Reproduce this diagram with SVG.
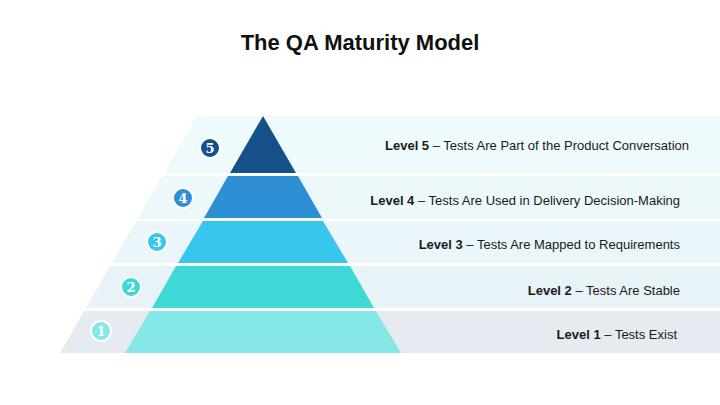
<svg xmlns="http://www.w3.org/2000/svg" width="720" height="405" viewBox="0 0 720 405">
<style>
.t{font-family:"Liberation Sans",Arial,sans-serif;font-size:13px;fill:#1a1a1a;text-anchor:end}
.b{font-weight:bold}
.n{font-family:"DejaVu Serif",serif;font-weight:bold;font-size:13px;fill:#fff;text-anchor:middle}
.c{stroke:#fff;stroke-width:2}
</style>
<rect width="720" height="405" fill="#fff"/>
<text x="360" y="50" font-family="Liberation Sans,Arial,sans-serif" font-weight="bold" font-size="22" text-anchor="middle" fill="#111">The QA Maturity Model</text>
<g id="bands">
<polygon points="197,116 720,116 720,173 164,173" fill="#eefafb"/>
<polygon points="162,176 720,176 720,219 137,219" fill="#ecf8fa"/>
<polygon points="136,221 720,221 720,263 112,263" fill="#eaf6f9"/>
<polygon points="110,266 720,266 720,308 86,308" fill="#e8f3f8"/>
<polygon points="84,311 720,311 720,353 60,353" fill="#e6ebf1"/>
</g>
<g id="level5"><polygon points="263,116 296,173 230,173" fill="#16508a"/><circle class="c" cx="210" cy="148" r="10" fill="#16508a"/><text class="n" x="210" y="153">5</text><text class="t" x="689" y="150"><tspan class="b">Level 5</tspan> – Tests Are Part of the Product Conversation</text></g>
<g id="level4"><polygon points="228,176 298,176 322,218 204,218" fill="#2e8fd5"/><circle class="c" cx="183" cy="198" r="10" fill="#2e8fd5"/><text class="n" x="183" y="203">4</text><text class="t" x="680" y="205"><tspan class="b">Level 4</tspan> – Tests Are Used in Delivery Decision-Making</text></g>
<g id="level3"><polygon points="203,221 323,221 348,263 178,263" fill="#38c6ec"/><circle class="c" cx="157" cy="242" r="10" fill="#38c6ec"/><text class="n" x="157" y="247">3</text><text class="t" x="680" y="249"><tspan class="b">Level 3</tspan> – Tests Are Mapped to Requirements</text></g>
<g id="level2"><polygon points="176,266 350,266 374,308 152,308" fill="#3ed9d6"/><circle class="c" cx="131" cy="287" r="10" fill="#3ed9d6"/><text class="n" x="131" y="292">2</text><text class="t" x="680" y="295"><tspan class="b">Level 2</tspan> – Tests Are Stable</text></g>
<g id="level1"><polygon points="150,311 376,311 401,353 125,353" fill="#85e8e6"/><circle class="c" cx="101" cy="331" r="10" fill="#85e8e6"/><text class="n" x="101" y="336">1</text><text class="t" x="677" y="339"><tspan class="b">Level 1</tspan> – Tests Exist</text></g>
<g id="connectors"/>
</svg>
